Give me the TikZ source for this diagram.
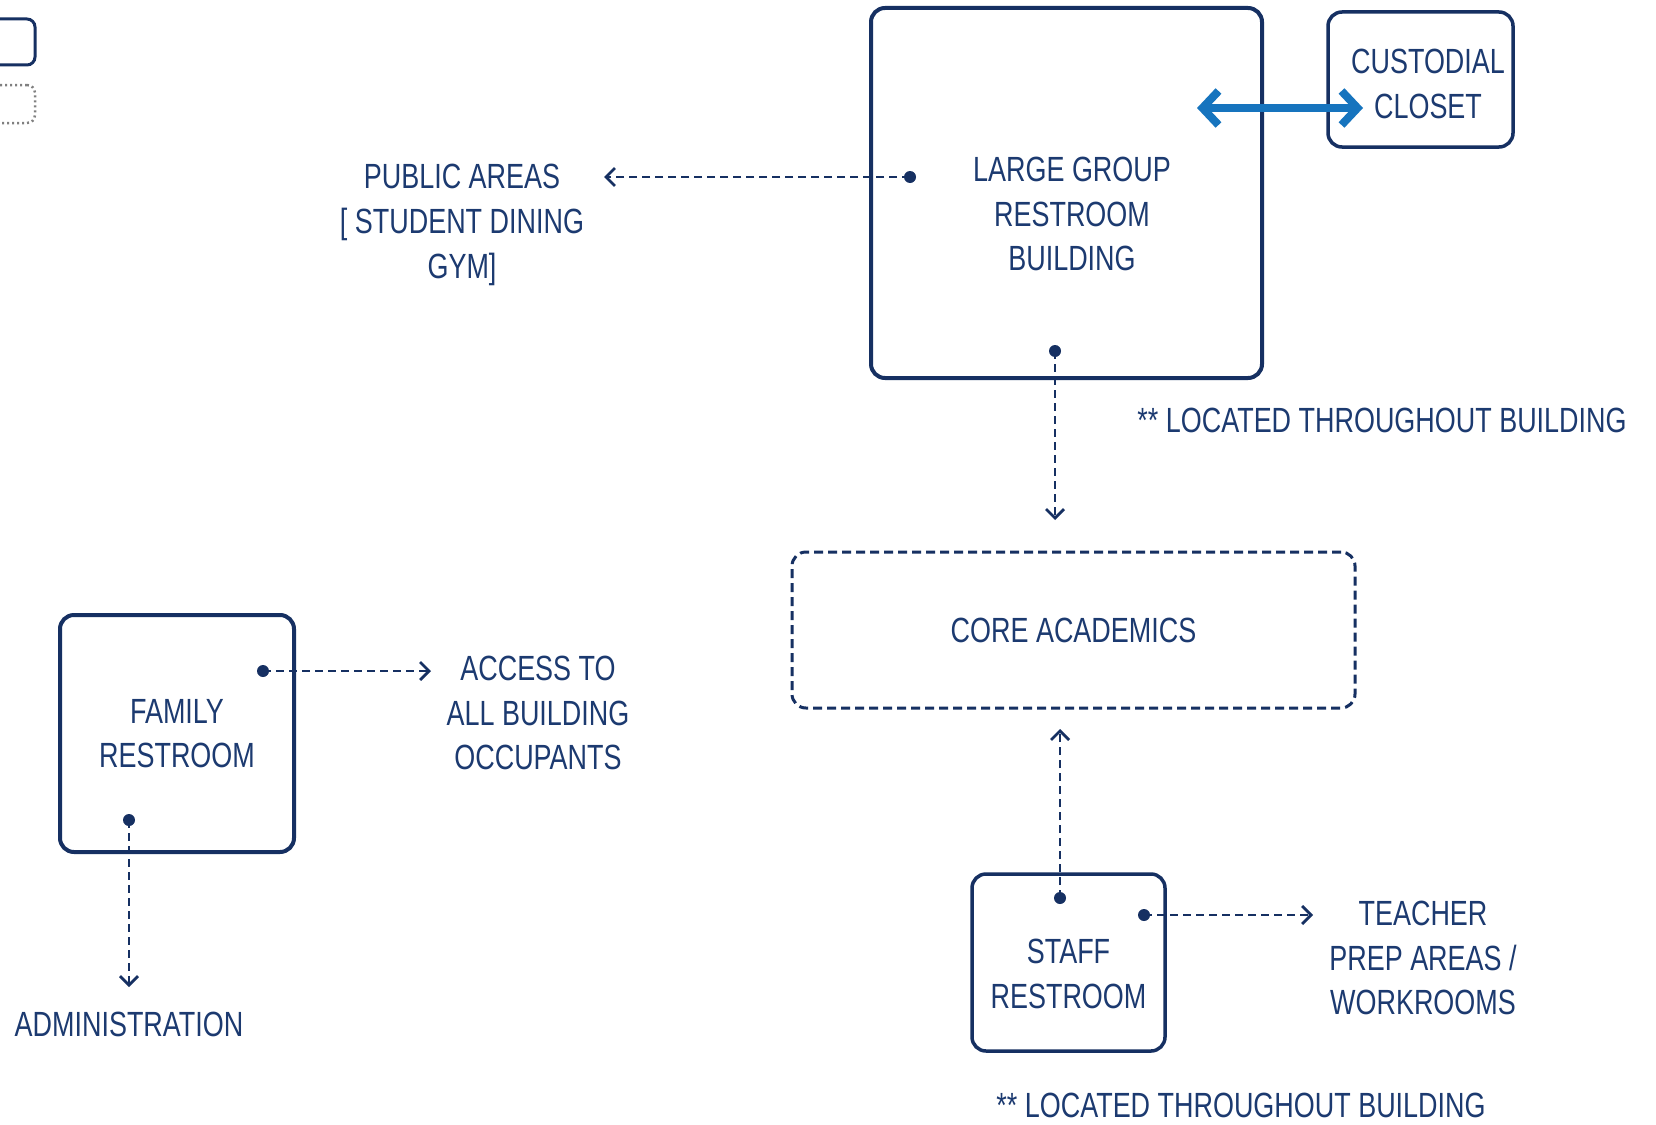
\documentclass[tikz,border=0pt]{standalone}
\usepackage{fontspec}
\setmainfont{Liberation Sans}[FakeStretch=0.77]
\usepackage{tikz}
\usepackage{xcolor}
\usetikzlibrary{arrows.meta}
\definecolor{navy}{RGB}{22,48,98}
\definecolor{ink}{RGB}{28,58,112}
\definecolor{bluearr}{RGB}{22,116,190}
\tikzset{
room/.style={draw=navy,line width=4pt,rounded corners=14pt,text=ink,align=center,font=\fontsize{35}{44.6}\selectfont},
zone/.style={room,line width=3pt,dash pattern=on 9pt off 5pt},
lbl/.style={text=ink,align=center,font=\fontsize{35}{44.6}\selectfont},
link/.style={navy,line width=2.8pt,dash pattern=on 8pt off 5pt,-{Straight Barb[length=9pt,width=18pt]}},
swing/.style={bluearr,line width=8pt,{Straight Barb[length=16pt,width=34pt]}-{Straight Barb[length=16pt,width=34pt]}}}
\begin{document}
\begin{tikzpicture}[x=1pt,y=-1pt]
\useasboundingbox (0,0) rectangle (1656,1124);
\fill[white] (0,0) rectangle (1656,1124);
\clip (0,0) rectangle (1656,1124);
\node[room,line width=3pt,rounded corners=8pt,minimum width=80pt,minimum height=46pt] (keyroom) at (-5,42) {};
\node[draw=gray,line width=2.5pt,dash pattern=on 2pt off 3pt,rounded corners=8pt,minimum width=80pt,minimum height=38pt] (keyzone) at (-5,104) {};
\node[room,minimum width=391pt,minimum height=370pt] (large) at (1066.5,193) {};
\node[lbl] (largetxt) at (1072,214) {LARGE GROUP\\RESTROOM\\BUILDING};
\node[room,line width=3.5pt,minimum width=185pt,minimum height=135pt] (closet) at (1420.5,79.5) {};
\node[lbl] (closettxt) at (1428,84) {CUSTODIAL\\CLOSET};
\node[lbl] (public) at (462,225) {PUBLIC AREAS\\{[} STUDENT DINING\\GYM]};
\node[lbl] (note1) at (1382,420) {** LOCATED THROUGHOUT BUILDING};
\node[zone,minimum width=563pt,minimum height=156pt] (core) at (1073.5,630) {CORE ACADEMICS};
\node[room,line width=3.5pt,minimum width=193pt,minimum height=177pt] (staff) at (1068.5,962.5) {};
\node[lbl] (stafftxt) at (1068.5,974) {STAFF\\RESTROOM};
\node[lbl] (teacher) at (1423,958) {TEACHER\\PREP AREAS /\\WORKROOMS};
\node[lbl] (note2) at (1241,1105) {** LOCATED THROUGHOUT BUILDING};
\node[room,minimum width=234pt,minimum height=237pt] (family) at (177,733.5) {FAMILY\\RESTROOM};
\node[lbl] (access) at (538,713) {ACCESS TO\\ALL BUILDING\\OCCUPANTS};
\node[lbl] (admin) at (129,1024) {ADMINISTRATION};
\coordinate (pubdot) at (910,177);\coordinate (pubend) at (604,177);
\coordinate (largedot) at (1055,351);\coordinate (largeend) at (1055,520);
\coordinate (staffdot) at (1060,898);\coordinate (staffup) at (1060,729);
\coordinate (staffdot2) at (1144,915);\coordinate (staffend) at (1313,915);
\coordinate (famdot) at (263,671);\coordinate (famend) at (431,671);
\coordinate (famdot2) at (129,820);\coordinate (famdown) at (129,987);
\foreach \a/\b in {pubdot/pubend,largedot/largeend,staffdot/staffup,staffdot2/staffend,famdot/famend,famdot2/famdown} {
\fill[navy] (\a) circle (6);\draw[link] (\a)--(\b);}
\coordinate (closetL) at (1197,108);\coordinate (closetR) at (1363,108);
\draw[swing] (closetL)--(closetR);
\end{tikzpicture}
\end{document}
